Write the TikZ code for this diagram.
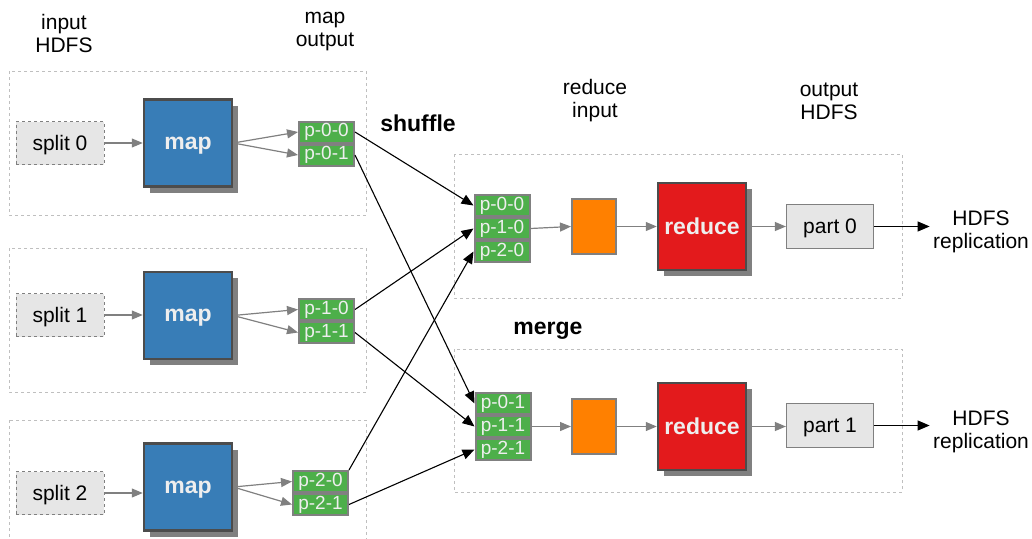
\documentclass[tikz,border=0pt]{standalone}
\usepackage{fontspec}
\setmainfont{Liberation Sans}
\usetikzlibrary{shadows,arrows.meta}
\definecolor{mapblue}{RGB}{56,125,183}
\definecolor{redbox}{RGB}{227,26,28}
\definecolor{orbox}{RGB}{255,128,0}
\definecolor{pgreen}{RGB}{77,175,74}
\definecolor{lgray}{RGB}{230,230,230}
\definecolor{wtext}{RGB}{238,238,238}
\begin{document}
\begin{tikzpicture}[x=1pt,y=-1pt,>={Triangle[length=12pt,width=10pt]}]
\tikzstyle{every node}=[font=\fontsize{21}{23}\selectfont]
\tikzstyle{grp}=[draw=black!25,dashed,line width=0.8pt]
\tikzstyle{split}=[draw=gray,dashed,fill=lgray,minimum width=88pt,minimum height=43pt,text depth=0pt]
\tikzstyle{part}=[draw=gray,fill=lgray,line width=1.2pt,minimum width=87pt,minimum height=44pt,text depth=0pt]
\tikzstyle{bigbox}=[draw=black!70,line width=2.5pt,minimum width=88pt,minimum height=87pt,text=wtext,text depth=0pt,font=\fontsize{23}{26}\selectfont\bfseries,general shadow={fill=gray,shadow xshift=6pt,shadow yshift=-6pt}]
\tikzstyle{pp}=[draw=gray,fill=pgreen,line width=2pt,minimum width=55pt,minimum height=21pt,inner sep=0pt,text=wtext,font=\fontsize{19}{21}\selectfont]
\tikzstyle{stage}=[font=\fontsize{23}{26}\selectfont\bfseries,text depth=0pt]
\tikzstyle{gl}=[draw=gray,line width=1.2pt,->,>={Triangle[length=11pt,width=9pt]}]
\tikzstyle{bl}=[draw=black,line width=1.1pt,->]
\useasboundingbox (0,0) rectangle (1032,538);
% groups
\draw[grp] (9,71) rectangle (366,215);
\draw[grp] (9,248) rectangle (366,392);
\draw[grp] (9,420) rectangle (366,545);
\draw[grp] (454,154) rectangle (902,298);
\draw[grp] (454,349) rectangle (902,492);
% headers
\node[align=center] (hin) at (64,33) {input\\HDFS};
\node[align=center] (hmo) at (325,32) {map\\output};
\node[align=center] (hri) at (595,101) {reduce\\input};
\node[align=center] (hoh) at (829,101) {output\\HDFS};
\node[stage] (shuf) at (418,123) {shuffle};
\node[stage] (merg) at (548,328) {merge};
% map side
\node[split] (s0) at (60,143) {split 0};
\node[split] (s1) at (60,315) {split 1};
\node[split] (s2) at (60,493) {split 2};
\node[bigbox,fill=mapblue] (m0) at (188,143) {map};
\node[bigbox,fill=mapblue] (m1) at (188,315.5) {map};
\node[bigbox,fill=mapblue] (m2) at (188,487) {map};
\node[pp] (p00) at (326.5,132) {p-0-0};
\node[pp] (p01) at (326.5,155) {p-0-1};
\node[pp] (p10) at (326.5,309.5) {p-1-0};
\node[pp] (p11) at (326.5,332.5) {p-1-1};
\node[pp] (p20) at (320.5,481.5) {p-2-0};
\node[pp] (p21) at (320.5,504.5) {p-2-1};
% reduce side
\node[pp] (r00) at (502,205.5) {p-0-0};
\node[pp] (r10) at (502,228.5) {p-1-0};
\node[pp] (r20) at (502,251.5) {p-2-0};
\node[pp] (r01) at (503,403.5) {p-0-1};
\node[pp] (r11) at (503,426.5) {p-1-1};
\node[pp] (r21) at (503,449.5) {p-2-1};
\node[draw=gray,line width=2pt,fill=orbox,minimum width=44pt,minimum height=55pt] (o0) at (594,226.5) {};
\node[draw=gray,line width=2pt,fill=orbox,minimum width=44pt,minimum height=55pt] (o1) at (594,426.5) {};
\node[bigbox,fill=redbox] (rd0) at (702,226.5) {reduce};
\node[bigbox,fill=redbox] (rd1) at (702,426.5) {reduce};
\node[part] (pt0) at (830,226.5) {part 0};
\node[part] (pt1) at (830,425.5) {part 1};
\node[align=center] (h0) at (981,231.5) {HDFS\\replication};
\node[align=center] (h1) at (981,431.5) {HDFS\\replication};
% map arrows
\draw[gl] (s0.east) -- (m0.west |- s0);
\draw[gl] (s1.east) -- (m1.west |- s1);
\draw[gl] (s2.east) -- (m2.west |- s2);
\draw[gl] (m0.east) -- (p00.west);
\draw[gl] (m0.east) -- (p01.west);
\draw[gl] (m1.east) -- (p10.west);
\draw[gl] (m1.east) -- (p11.west);
\draw[gl] (m2.east) -- (p20.west);
\draw[gl] (m2.east) -- (p21.west);
% shuffle
\draw[bl] (p00.east) -- (r00.west);
\draw[bl] (p10.east) -- (r10.west);
\draw[bl] (p20.north east) -- (r20.west);
\draw[bl] (p01.east) -- (r01.west);
\draw[bl] (p11.east) -- (r11.west);
\draw[bl] (p21.east) -- (r21.west);
% reduce arrows
\draw[gl] (r10.east) -- (o0.west);
\draw[gl] (o0) -- (rd0);
\draw[gl] (rd0) -- (pt0);
\draw[bl] (pt0.east) -- (pt0.east -| h0.west);
\draw[gl] (r11.east) -- (o1.west);
\draw[gl] (o1) -- (rd1);
\draw[gl] (rd1.east) -- (pt1.west |- rd1);
\draw[bl] (pt1.east) -- (pt1.east -| h1.west);
\end{tikzpicture}
\end{document}
